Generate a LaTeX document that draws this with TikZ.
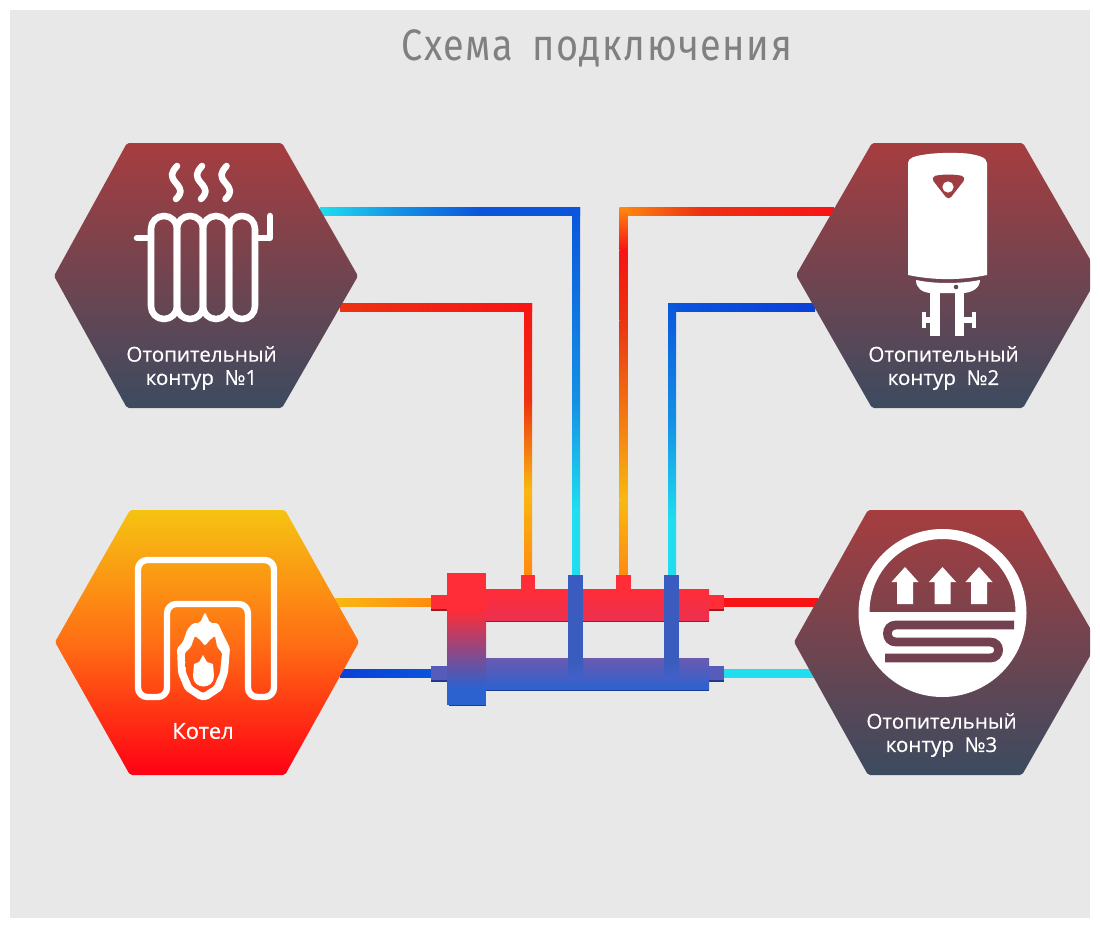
\documentclass[tikz,border=0pt]{standalone}
\usepackage{fontspec}
\setmainfont{Open Sans}
\newfontfamily\titlefont[FakeStretch=0.86,LetterSpace=3.5]{Fira Sans}
\newfontfamily\labfont[FakeBold=0.5]{Open Sans}
\usetikzlibrary{calc}
\definecolor{bgc}{HTML}{E8E8E8}
\definecolor{hextop}{HTML}{A63D3F}
\definecolor{hexbot}{HTML}{3C4B60}
\definecolor{boiltop}{HTML}{F6C312}
\definecolor{boilmid}{HTML}{FF6E14}
\definecolor{boilbot}{HTML}{FF0014}
\definecolor{pcy}{HTML}{20DDF0}
\definecolor{psky}{HTML}{1490E4}
\definecolor{pbl}{HTML}{0A55DC}
\definecolor{pbd}{HTML}{0A40D8}
\definecolor{pred}{HTML}{F81414}
\definecolor{prd2}{HTML}{EC3212}
\definecolor{por}{HTML}{FF8A10}
\definecolor{pye}{HTML}{F8B812}
\definecolor{cred}{HTML}{FF2D37}
\definecolor{cred2}{HTML}{EC3050}
\definecolor{credd}{HTML}{A01824}
\definecolor{cblu}{HTML}{3A5CBF}
\definecolor{cblb}{HTML}{2C62D0}
\definecolor{cpur}{HTML}{6A5AB0}
\definecolor{cbld}{HTML}{1C3A90}
\definecolor{midh}{HTML}{72404E}
\definecolor{titlec}{HTML}{808080}
\definecolor{flamet}{HTML}{FF6E14}
\definecolor{flameb}{HTML}{FF4414}
\tikzset{
  hexa/.style={top color=hextop,bottom color=hexbot,rounded corners=1.5pt},
  hexb/.style={top color=boiltop,bottom color=boilbot,middle color=boilmid,rounded corners=1.5pt},
  icon/.style={draw=white,line width=4.9pt,line cap=round,line join=round},
  lab/.style={text=white,font=\labfont\fontsize{15.4pt}{18pt}\selectfont,inner sep=0pt,anchor=center},
}
\newcommand{\hp}[4]{\shade[left color=#3,right color=#4] ([yshift=-3pt]#1) rectangle ([yshift=3pt]#2);}
\newcommand{\vp}[4]{\shade[top color=#3,bottom color=#4] ([xshift=-3pt]#1) rectangle ([xshift=3pt]#2);}
\begin{document}
\begin{tikzpicture}[x=0.75pt,y=-0.75pt]
\useasboundingbox (0,0) rectangle (1100,928);
\fill[white] (0,0) rectangle (1100,928);
\fill[bgc] (10,10) rectangle (1090,918);
\node[titlec,inner sep=0pt,font=\titlefont\fontsize{33pt}{36pt}\selectfont] (title) at (597,48) {Схема\hspace{6pt} подключения};

% pipe joints
\coordinate (a1) at (320,211); \coordinate (a2) at (400,211); \coordinate (a3) at (480,211); \coordinate (a4) at (580,211);
\coordinate (a5) at (576,207); \coordinate (a6) at (576,400); \coordinate (a7) at (576,510); \coordinate (a8) at (576,576);
\coordinate (b1) at (340,307); \coordinate (b2) at (532,307);
\coordinate (b3) at (528,303); \coordinate (b4) at (528,400); \coordinate (b5) at (528,490); \coordinate (b6) at (528,576);
\coordinate (c1) at (834,211); \coordinate (c2) at (700,211); \coordinate (c3) at (619.5,211);
\coordinate (c4) at (623.5,207); \coordinate (c5) at (623.5,250); \coordinate (c6) at (623.5,320); \coordinate (c7) at (623.5,500); \coordinate (c8) at (623.5,576);
\coordinate (d1) at (815,307); \coordinate (d2) at (668,307);
\coordinate (d3) at (672,303); \coordinate (d4) at (672,420); \coordinate (d5) at (672,520); \coordinate (d6) at (672,576);
\coordinate (e1) at (335,602); \coordinate (e2) at (432,602);
\coordinate (f1) at (340,673); \coordinate (f2) at (432,673);
\coordinate (g1) at (722,602); \coordinate (g2) at (818,602);
\coordinate (h1) at (722,673); \coordinate (h2) at (815,673);

\hp{a1}{a2}{pcy}{psky}{} \hp{a2}{a3}{psky}{pbl}{} \hp{a3}{a4}{pbl}{pbl}{}
\vp{a5}{a6}{pbl}{psky}{} \vp{a6}{a7}{psky}{pcy}{} \vp{a7}{a8}{pcy}{pcy}{}
\hp{b1}{b2}{prd2}{pred}{}
\vp{b3}{b4}{pred}{prd2}{} \vp{b4}{b5}{prd2}{pye}{} \vp{b5}{b6}{pye}{por}{}
\hp{c3}{c2}{por}{prd2}{} \hp{c2}{c1}{prd2}{pred}{}
\vp{c4}{c5}{por}{pred}{} \vp{c5}{c6}{pred}{prd2}{} \vp{c6}{c7}{prd2}{pye}{} \vp{c7}{c8}{pye}{por}{}
\hp{d2}{d1}{pbl}{pbd}{}
\vp{d3}{d4}{pbl}{psky}{} \vp{d4}{d5}{psky}{pcy}{} \vp{d5}{d6}{pcy}{pcy}{}
\hp{e1}{e2}{pye}{por}{}
\hp{f1}{f2}{pbd}{pbl}{}
\hp{g1}{g2}{pred}{pred}{}
\hp{h1}{h2}{pcy}{pcy}{}

% collector
\fill[credd] (431,596) rectangle (447,610.5);
\fill[cred] (431,595) rectangle (447,608.5);
\fill[credd] (709,596) rectangle (724,610.5);
\fill[cred] (709,595) rectangle (724,608.5);
\fill[credd] (486,600) rectangle (709,622);
\shade[top color=cred,bottom color=cred2] (486,589) rectangle (709,620);
\fill[cred] (521,575) rectangle (535,590);
\fill[cred] (616,575) rectangle (631,590);
\fill[cbld] (431,670) rectangle (447,681.5);
\fill[cpur!70!cblb] (431,666) rectangle (447,680);
\fill[cbld] (709,670) rectangle (724,681.5);
\fill[cpur!70!cblb] (709,666) rectangle (724,680);
\fill[cbld] (486,670) rectangle (709,691);
\shade[top color=cpur,bottom color=cblb] (486,658) rectangle (709,689.5);
\fill[cbld] (449,695) rectangle (486,705.5);
\fill[cred] (447,573) rectangle (486,610);
\shade[top color=cred,bottom color=cblb,middle color=cred!45!cblu] (447,610) rectangle (486,688);
\fill[cblb] (447,688) rectangle (486,704.5);
\fill[cblu] (568,575) rectangle (583,660);
\fill[cblu] (664,575) rectangle (679,660);
\shade[top color=cblu,bottom color=cpur!35!cblb] (568,660) rectangle (583,676);
\shade[top color=cblu,bottom color=cpur!35!cblb] (664,660) rectangle (679,676);

% hexagons
\begin{scope}
\clip (10,10) rectangle (1090,918);
\shade[hexa] (127,143) -- (282,143) -- (358,276) -- (282,408) -- (127,408) -- (54,276) -- cycle;
\shade[hexb] (130,510) -- (285,510) -- (359,642) -- (285,775) -- (130,775) -- (55,642) -- cycle;
\shade[hexa] (872,143) -- (1023,143) -- (1099,275) -- (1023,408) -- (872,408) -- (796,275) -- cycle;
\shade[hexa] (868,510) -- (1022,510) -- (1098,642) -- (1022,775) -- (868,775) -- (794,642) -- cycle;
\end{scope}

% radiator
\foreach \x in {151,177,203,229}
  \draw[icon,rounded corners=9.6pt] (\x,216) rectangle ({\x+26},319);
\draw[icon] (137,238) -- (151,238);
\draw[icon] (255,238) -- (270,238) -- (270,216);
\foreach \d in {0,25,49.5}
  \draw[icon] ({177+\d},166) .. controls ({171+\d},173) and ({170+\d},176) .. ({176+\d},183) .. controls ({182+\d},190) and ({182+\d},193) .. ({176+\d},199);

% water heater icon
\fill[white] (908,275) -- (908,163) .. controls (908,158) and (915,156) .. (922,155) .. controls (935,152.5) and (955,152.5) .. (967,153.5) .. controls (977,155) and (987,157) .. (987,163) -- (987,275) .. controls (960,280.5) and (935,280.5) .. cycle;
\fill[white] (916,280) .. controls (935,284) and (960,284) .. (980,280) .. controls (980,288) and (972,293) .. (962,293) -- (932,293) .. controls (922,293) and (916,288) .. cycle;
\fill[white] (930,290) rectangle (940,336);
\fill[white] (955,290) rectangle (964,336);
\fill[white] (922,312) rectangle (925.5,328);
\fill[white] (925,317) rectangle (931,323);
\fill[white] (972,312) rectangle (975.5,328);
\fill[white] (963,317) rectangle (973,323);
\filldraw[fill=hextop!92!hexbot,draw=hextop!92!hexbot,line width=5pt,line join=round] (936,179) .. controls (944,177.5) and (953,177.5) .. (961,179) -- (948.5,195) -- cycle;
\fill[white] (948,187) circle[radius=4.2pt];
\fill[hexbot!70!hextop] (956,287) circle[radius=1.7pt];

% furnace icon
\draw[icon,line width=4.8pt,rounded corners=7pt] (167,697) -- (138,697) -- (138,560) -- (274,560) -- (274,697) -- (248,697) -- (248,604) -- (167,604) -- cycle;
\fill[white,rounded corners=1.5pt] (205,612) -- (210,623) -- (218,623) -- (222,632) -- (227,642) -- (230,648) -- (228,673) -- (222,690) -- (207,700) -- (200,700) -- (185,690) -- (178,673) -- (177,648) -- (183,642) -- (187,630) -- (193,623) -- (200,623) -- cycle;
\shade[top color=flamet,bottom color=flameb,rounded corners=1pt] (195,636) -- (200,640) -- (205,646) -- (210,640) -- (215,636) -- (217,647) -- (222,653) -- (220,672) -- (214,686) -- (203,693) -- (192,686) -- (186,672) -- (185,653) -- (191,647) -- cycle;
\fill[white] (203,655) -- (207,662) -- (213,664) -- (214,676) .. controls (214,690) and (193,690) .. (193,676) -- (194,664) -- (199,662) -- cycle;

% underfloor heating icon
\fill[white,even odd rule] (942.5,613) circle[radius=63pt] (869.5,612) .. controls (869.5,571.7) and (902.2,539) .. (942.5,539) .. controls (982.8,539) and (1015.5,571.7) .. (1015.5,612) -- cycle;
\foreach \x in {905,942.5,979}
  \fill[white] (\x,567) -- ({\x+13.5},582) -- ({\x+8},582) -- ({\x+8},604) -- ({\x-8},604) -- ({\x-8},582) -- ({\x-13.5},582) -- cycle;
\draw[midh,line width=6.6pt] (1014,625) -- (896,625) .. controls (884.6,625) and (884.6,642) .. (896,642) -- (990,642) .. controls (1001.4,642) and (1001.4,658) .. (990,658) -- (885,658);

% labels
\node[lab] (l1a) at (201.5,354) {Отопительный};
\node[lab] (l1b) at (201.5,380) {контур\ \ №1};
\node[lab] (l2a) at (943.5,354) {Отопительный};
\node[lab] (l2b) at (943.5,380) {контур\ \ №2};
\node[lab] (l3a) at (941.5,721) {Отопительный};
\node[lab] (l3b) at (941.5,747) {контур\ \ №3};
\node[lab,font=\labfont\fontsize{16.5pt}{19pt}\selectfont] (l4) at (203,731) {Котел};
\end{tikzpicture}
\end{document}
